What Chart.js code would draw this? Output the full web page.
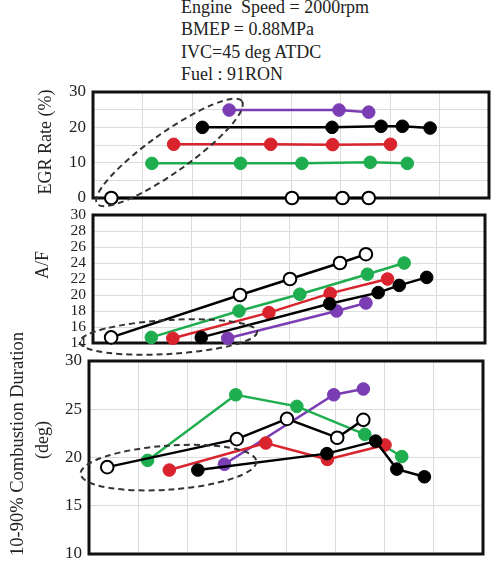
<!DOCTYPE html>
<html>
<head>
<meta charset="utf-8">
<script src="https://cdn.jsdelivr.net/npm/chart.js@4.4.1/dist/chart.umd.min.js"></script>
<style>
body{margin:0;background:#fff;}
#wrap{position:relative;width:501px;height:570px;overflow:hidden;font-family:"Liberation Serif",serif;color:#222;}
canvas{position:absolute;left:0;top:0;}
.hd{position:absolute;left:181px;top:-4px;font-size:18px;line-height:22.3px;white-space:pre;}
.yt{position:absolute;font-size:18px;white-space:nowrap;transform:translate(-50%,-50%) rotate(-90deg);}
</style>
</head>
<body>
<div id="wrap">
<div class="hd">Engine  Speed = 2000rpm
BMEP = 0.88MPa
IVC=45 deg ATDC
Fuel : 91RON</div>
<canvas id="c1" width="501" height="570"></canvas>
<canvas id="c2" width="501" height="570"></canvas>
<canvas id="c3" width="501" height="570"></canvas>
<div class="yt" style="left:45px;top:142px">EGR Rate (%)</div>
<div class="yt" style="left:42px;top:265px">A/F</div>
<div class="yt" style="left:17px;top:444px;font-size:18.5px">10-90% Combustion Duration</div>
<div class="yt" style="left:42px;top:440px">(deg)</div>
</div>
<script>
// x positions of each series (no x labels on the original)
const xOpen   = [0.37, 3.0, 4.02, 5.04, 5.57]
const xBlack  = [2.21, 4.83, 5.82, 6.25, 6.81]
const xRed    = [1.63, 3.59, 4.84, 6.01]
const xGreen  = [1.19, 2.98, 4.22, 5.6, 6.35]
const xPurple = [2.75, 4.97, 5.57]

// EGR rate (%)
const egrOpen   = [0, null, 0, 0, 0]
const egrBlack  = [20, 20, 20.3, 20.3, 19.8]
const egrRed    = [15.2, 15.2, 15.1, 15.2]
const egrGreen  = [9.8, 9.8, 9.8, 10.1, 9.8]
const egrPurple = [24.9, 24.9, 24.3]

// A/F
const afOpen   = [14.7, 20.0, 22.0, 24.0, 25.1]
const afBlack  = [14.7, 18.9, 20.3, 21.2, 22.2]
const afRed    = [14.6, 17.8, 20.2, 22.0]
const afGreen  = [14.7, 18.0, 20.1, 22.6, 24.0]
const afPurple = [14.6, 18.0, 19.0]

// 10-90% combustion duration (deg)
const durOpen   = [19.0, 21.9, 24.0, 22.05, 23.9]
const durBlack  = [18.7, 20.4, 21.7, 18.8, 18.0]
const durRed    = [18.7, 21.5, 19.8, 21.3]
const durGreen  = [19.7, 26.5, 25.3, 22.4, 20.1]
const durPurple = [19.3, 26.5, 27.1]

// dashed loops: two ends of the long axis in data units
const egrLoop = [[0.08, -1.6], [3.01, 27.4]]
const afLoop  = [[-0.27, 14.1], [3.35, 15.4]]
const durLoop = [[-0.17, 18.3], [3.4, 19.6]]

const GREEN = '#1fae4f', RED = '#d9232d', PURPLE = '#7a3db3', BLACK = '#000'

const pts = (xs, ys) => xs.map((x, i) => ({x, y: ys[i]}))

const series = (xs, ys, color, open) => ({
    data: pts(xs, ys),
    borderColor: color,
    backgroundColor: open ? '#fff' : color,
    pointBorderColor: color,
    pointBackgroundColor: open ? '#fff' : color,
    pointBorderWidth: open ? 2 : 1,
    pointRadius: 6.3,
    borderWidth: 2.5,
    spanGaps: true,
    clip: false
})

const framePlugin = {
    id: 'frame',
    beforeDatasetsDraw(chart) {
        const {ctx, chartArea: a} = chart
        ctx.save()
        ctx.strokeStyle = '#111'
        ctx.lineWidth = 3
        ctx.strokeRect(a.left, a.top, a.right - a.left, a.bottom - a.top)
        ctx.restore()
    }
}

const loopPlugin = {
    id: 'loop',
    afterDatasetsDraw(chart, args, opts) {
        const {ctx, scales} = chart
        const [p, q] = opts.ends
        const x1 = scales.x.getPixelForValue(p[0]), y1 = scales.y.getPixelForValue(p[1])
        const x2 = scales.x.getPixelForValue(q[0]), y2 = scales.y.getPixelForValue(q[1])
        const a = Math.hypot(x2 - x1, y2 - y1) / 2
        ctx.save()
        ctx.strokeStyle = '#333'
        ctx.lineWidth = 2
        ctx.setLineDash([6, 4])
        ctx.beginPath()
        ctx.ellipse((x1 + x2) / 2, (y1 + y2) / 2, a, opts.minor, Math.atan2(y2 - y1, x2 - x1), 0, Math.PI * 2)
        ctx.stroke()
        ctx.restore()
    }
}

function makeChart(id, datasets, y, area, loop) {
    return new Chart(document.getElementById(id), {
        type: 'line',
        data: {datasets},
        options: {
            responsive: false,
            animation: false,
            layout: {
                autoPadding: false,
                padding: {top: area.top, bottom: 570 - area.bottom, left: 0, right: 501 - area.right}
            },
            plugins: {legend: {display: false}, tooltip: {enabled: false}, loop},
            scales: {
                x: {
                    type: 'linear', min: 0, max: 8,
                    ticks: {display: false, stepSize: 1},
                    grid: {color: '#dcdcdc', drawTicks: false},
                    border: {display: false}
                },
                y: {
                    min: y.min, max: y.max,
                    afterFit: s => { s.width = area.left },
                    ticks: {
                        stepSize: y.step, padding: 7, color: '#222', autoSkip: false,
                        font: {family: 'Liberation Serif', size: y.font, lineHeight: 1},
                        callback: v => (v % y.every === 0 ? v : '')
                    },
                    grid: {color: '#dcdcdc', drawTicks: false},
                    border: {display: false}
                }
            }
        },
        plugins: [framePlugin, loopPlugin]
    })
}

makeChart('c1', [
    series(xOpen, egrOpen, BLACK, true),
    series(xBlack, egrBlack, BLACK),
    series(xRed, egrRed, RED),
    series(xGreen, egrGreen, GREEN),
    series(xPurple, egrPurple, PURPLE)
], {min: 0, max: 30, step: 5, every: 10, font: 17},
   {left: 93, right: 489, top: 92, bottom: 198},
   {ends: egrLoop, minor: 20})

makeChart('c2', [
    series(xOpen, afOpen, BLACK, true),
    series(xBlack, afBlack, BLACK),
    series(xRed, afRed, RED),
    series(xGreen, afGreen, GREEN),
    series(xPurple, afPurple, PURPLE)
], {min: 14, max: 30, step: 2, every: 2, font: 15.5},
   {left: 93, right: 485, top: 215, bottom: 343},
   {ends: afLoop, minor: 17})

makeChart('c3', [
    series(xOpen, durOpen, BLACK, true),
    series(xBlack, durBlack, BLACK),
    series(xRed, durRed, RED),
    series(xGreen, durGreen, GREEN),
    series(xPurple, durPurple, PURPLE)
], {min: 10, max: 30, step: 5, every: 5, font: 17},
   {left: 89, right: 483, top: 361, bottom: 554},
   {ends: durLoop, minor: 22})
</script>
</body>
</html>
